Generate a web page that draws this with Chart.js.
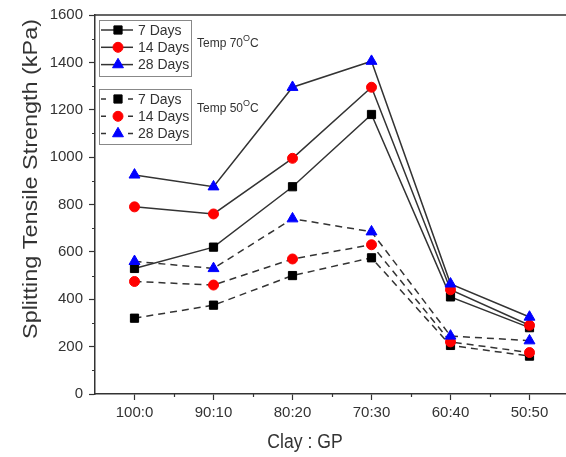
<!DOCTYPE html>
<html>
<head>
<meta charset="utf-8">
<title>Splitting Tensile Strength</title>
<script src="https://cdn.jsdelivr.net/npm/chart.js@4.4.1/dist/chart.umd.min.js"></script>
<style>
  html, body { margin: 0; padding: 0; background: #fff; overflow: hidden; }
  #wrap { width: 580px; height: 457px; }
</style>
</head>
<body>
<div id="wrap"><canvas id="strengthChart" width="580" height="457"></canvas></div>
<script>
// Clay : GP mix ratios
const mixRatios = ['100:0', '90:10', '80:20', '70:30', '60:40', '50:50'];

// Cured at 70 °C (kPa)
const t70Day7  = [530, 620, 875, 1180, 410, 280];
const t70Day14 = [790, 760, 995, 1295, 440, 290];
const t70Day28 = [925, 875, 1295, 1405, 465, 325];

// Cured at 50 °C (kPa)
const t50Day7  = [320, 375, 500, 575, 205, 160];
const t50Day14 = [475, 460, 570, 630, 220, 175];
const t50Day28 = [560, 530, 740, 685, 245, 225];

const dayLabels = ['7 Days', '14 Days', '28 Days'];
const yMin = 0, yMax = 1600, yStep = 200;

const FONT = "'Liberation Sans', Arial, sans-serif";
const INK = '#333';

const markers = [
  { pointStyle: 'rect', color: '#000000', radius: 5.8 },
  { pointStyle: 'circle', color: '#ff0000', radius: 5 },
  { pointStyle: 'triangle', color: '#0000ff', radius: 6.3 }
];

function makeSet(label, values, idx, dashed) {
  const m = markers[idx];
  return {
    label: label,
    data: values,
    borderColor: INK,
    borderWidth: 1.5,
    borderDash: dashed ? [7, 5] : [],
    pointStyle: m.pointStyle,
    pointRadius: m.radius,
    pointHoverRadius: m.radius,
    pointBackgroundColor: m.color,
    pointBorderColor: m.color,
    pointBorderWidth: 1,
    tension: 0,
    fill: false,
    order: 3 - idx   // 28 days drawn on top
  };
}

// minor ticks, frame, axis titles and the two legend boxes
const decorations = {
  id: 'decorations',
  afterDraw(chart) {
    const ctx = chart.ctx;
    const area = chart.chartArea;
    const xs = chart.scales.x, ys = chart.scales.y;
    ctx.save();

    // frame on top / right
    ctx.strokeStyle = INK;
    ctx.lineWidth = 1.5;
    ctx.beginPath();
    ctx.moveTo(area.left, area.top);
    ctx.lineTo(area.right, area.top);
    ctx.lineTo(area.right, area.bottom);
    ctx.stroke();

    // minor ticks
    ctx.lineWidth = 1.2;
    ctx.beginPath();
    for (let v = yMin + yStep / 2; v < yMax; v += yStep) {
      const y = Math.round(ys.getPixelForValue(v)) + 0.5;
      ctx.moveTo(area.left - 3, y);
      ctx.lineTo(area.left, y);
    }
    for (let i = 0; i < mixRatios.length - 1; i++) {
      const x = Math.round((xs.getPixelForValue(i) + xs.getPixelForValue(i + 1)) / 2) + 0.5;
      ctx.moveTo(x, area.bottom);
      ctx.lineTo(x, area.bottom + 3);
    }
    ctx.stroke();

    // axis titles (slightly narrow lettering)
    ctx.fillStyle = INK;
    ctx.textAlign = 'center';
    ctx.textBaseline = 'middle';
    ctx.save();
    ctx.translate(305, 442);
    ctx.scale(0.88, 1);
    ctx.font = '20px ' + FONT;
    ctx.fillText('Clay : GP', 0, 0);
    ctx.restore();
    ctx.save();
    ctx.translate(31, 179);
    ctx.rotate(-Math.PI / 2);
    ctx.scale(1.17, 1);
    ctx.font = '20px ' + FONT;
    ctx.fillText('Splitting Tensile Strength (kPa)', 0, 0);
    ctx.restore();

    // legends
    const groups = [
      { top: 20, height: 56, temp: '70', sets: [0, 1, 2], dashed: false, tempY: 44 },
      { top: 89, height: 55, temp: '50', sets: [3, 4, 5], dashed: true, tempY: 109 }
    ];
    const boxLeft = 99.5, boxWidth = 92;
    groups.forEach(g => {
      ctx.strokeStyle = '#888';
      ctx.lineWidth = 1;
      ctx.setLineDash([]);
      ctx.strokeRect(boxLeft, g.top + 0.5, boxWidth, g.height);

      g.sets.forEach((di, row) => {
        const ds = chart.data.datasets[di];
        const y = g.top + 10 + row * 17.3;
        ctx.strokeStyle = INK;
        ctx.lineWidth = 1.5;
        ctx.beginPath();
        if (g.dashed) {
          ctx.moveTo(101, y); ctx.lineTo(106, y);
          ctx.moveTo(128, y); ctx.lineTo(133, y);
        } else {
          ctx.moveTo(101, y); ctx.lineTo(133, y);
        }
        ctx.stroke();

        ctx.fillStyle = ds.pointBackgroundColor;
        ctx.strokeStyle = ds.pointBorderColor;
        ctx.lineWidth = 1;
        Chart.helpers.drawPoint(ctx, {
          pointStyle: ds.pointStyle,
          radius: ds.pointRadius,
          rotation: 0,
          borderWidth: 1
        }, 118, y);

        ctx.fillStyle = INK;
        ctx.textAlign = 'left';
        ctx.textBaseline = 'middle';
        ctx.font = '14px ' + FONT;
        ctx.fillText(dayLabels[row], 138, y + 1);
      });

      // "Temp 70 °C" with a raised O
      ctx.fillStyle = INK;
      ctx.textAlign = 'left';
      ctx.textBaseline = 'middle';
      ctx.font = '12px ' + FONT;
      const head = 'Temp ' + g.temp;
      ctx.fillText(head, 197, g.tempY);
      let x = 197 + ctx.measureText(head).width;
      ctx.font = '9px ' + FONT;
      ctx.fillText('O', x, g.tempY - 5);
      x += ctx.measureText('O').width;
      ctx.font = '12px ' + FONT;
      ctx.fillText('C', x, g.tempY);
    });

    ctx.restore();
  }
};

new Chart(document.getElementById('strengthChart'), {
  type: 'line',
  data: {
    labels: mixRatios,
    datasets: [
      makeSet('7 Days (70)', t70Day7, 0, false),
      makeSet('14 Days (70)', t70Day14, 1, false),
      makeSet('28 Days (70)', t70Day28, 2, false),
      makeSet('7 Days (50)', t50Day7, 0, true),
      makeSet('14 Days (50)', t50Day14, 1, true),
      makeSet('28 Days (50)', t50Day28, 2, true)
    ]
  },
  options: {
    responsive: false,
    animation: false,
    devicePixelRatio: 1,
    layout: { padding: { left: 0, top: 13, right: 11, bottom: 0 } },
    plugins: {
      legend: { display: false },
      tooltip: { enabled: false },
      title: { display: false }
    },
    scales: {
      x: {
        offset: true,
        grid: { display: true, drawOnChartArea: false, offset: false, tickLength: 6, tickColor: INK, tickWidth: 1.2 },
        border: { color: INK, width: 1.5 },
        ticks: { color: INK, font: { family: FONT, size: 15 }, padding: 4, maxRotation: 0 },
        afterFit(scale) { scale.height = 63; }
      },
      y: {
        min: yMin,
        max: yMax,
        grid: { display: true, drawOnChartArea: false, tickLength: 6, tickColor: INK, tickWidth: 1.2 },
        border: { color: INK, width: 1.5 },
        ticks: {
          stepSize: yStep,
          color: INK,
          font: { family: FONT, size: 15 },
          padding: 6,
          callback: v => String(v)
        },
        afterFit(scale) { scale.width = 95; }
      }
    }
  },
  plugins: [decorations]
});
</script>
</body>
</html>
